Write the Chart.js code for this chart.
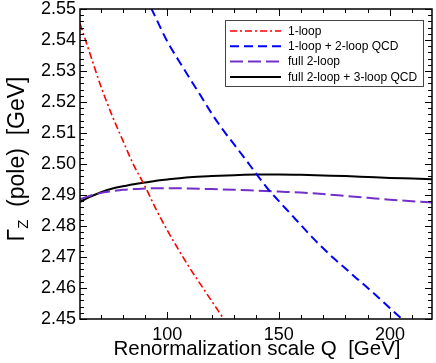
<!DOCTYPE html>
<head>
  <script src="https://cdn.jsdelivr.net/npm/chart.js"></script>
  <style>
      body { margin: 0; background: #fff; }
      .chartBox { width: 436px; height: 363px; }
  </style>
</head>

<body>
  <div class="chartBox">
    <canvas id="widthChart"></canvas>
  </div>

<script>
// renormalization scale Q [GeV] and Gamma_Z [GeV]
const qOneLoop = [60.79, 65, 70, 75, 80, 85, 90, 95, 100, 105, 110, 115, 120, 125, 130];
const gammaOneLoop = [2.5453, 2.5362, 2.5254, 2.5160, 2.5076, 2.4995, 2.4928, 2.4853, 2.4786, 2.4724, 2.4665, 2.4611, 2.4557, 2.4504, 2.4452];

const qOneLoopQcd = [90, 95, 100, 105, 110, 115, 120, 125, 130, 135, 140, 145, 150, 155, 160, 165, 170, 175, 180, 185, 190, 195, 200, 205, 210];
const gammaOneLoopQcd = [2.5544, 2.5469, 2.5395, 2.5335, 2.5277, 2.5220, 2.5162, 2.5110, 2.5063, 2.5016, 2.4968, 2.4921, 2.4881, 2.4842, 2.4803, 2.4764, 2.4728, 2.4694, 2.4663, 2.4631, 2.4600, 2.4568, 2.4535, 2.4502, 2.4469];

const qFull = [60.79, 65, 70, 75, 80, 85, 90, 95, 100, 110, 120, 130, 140, 150, 160, 170, 180, 190, 200, 210, 218.85];
const gammaFull2 = [2.4886, 2.4897, 2.4906, 2.4912, 2.4917, 2.4919, 2.4921, 2.4922, 2.4922, 2.4921, 2.4919, 2.4917, 2.4914, 2.4911, 2.4908, 2.4903, 2.4897, 2.4891, 2.4885, 2.4880, 2.4876];
const gammaFull3 = [2.4878, 2.4893, 2.4908, 2.4920, 2.4928, 2.4935, 2.4940, 2.4946, 2.4950, 2.4957, 2.4961, 2.4964, 2.4966, 2.4966, 2.4965, 2.4963, 2.4961, 2.4958, 2.4955, 2.4953, 2.4951];

const xTicks = [100, 150, 200];
const yTicks = [2.45, 2.46, 2.47, 2.48, 2.49, 2.50, 2.51, 2.52, 2.53, 2.54, 2.55];

const fontFamily = "'Liberation Sans', Arial, Helvetica, sans-serif";

function pts(xs, ys) {
  return xs.map((q, i) => ({x: q, y: ys[i]}));
}

// frame with inward ticks on all four sides, plus axis titles
const frameAndTitles = {
  id: 'frameAndTitles',
  afterDraw(chart) {
    const {ctx, chartArea: {left, right, top, bottom}, scales: {x, y}} = chart;
    ctx.save();
    ctx.strokeStyle = '#000';
    ctx.lineWidth = 1;
    ctx.beginPath();
    for (let q = 70; q <= 210; q += 10) {
      const px = Math.round(x.getPixelForValue(q)) + 0.5;
      const len = q % 50 === 0 ? 7 : 4;
      ctx.moveTo(px, bottom); ctx.lineTo(px, bottom - len);
      ctx.moveTo(px, top); ctx.lineTo(px, top + len);
    }
    for (let k = 0; k <= 50; k++) {
      const py = Math.round(y.getPixelForValue(2.45 + k * 0.002)) + 0.5;
      const len = k % 5 === 0 ? 7 : 4;
      ctx.moveTo(left, py); ctx.lineTo(left + len, py);
      ctx.moveTo(right, py); ctx.lineTo(right - len, py);
    }
    ctx.stroke();
    ctx.lineWidth = 1.5;
    ctx.strokeRect(left, top, right - left, bottom - top);

    // x title
    ctx.fillStyle = '#000';
    ctx.font = '20.5px ' + fontFamily;
    ctx.textAlign = 'center';
    ctx.textBaseline = 'alphabetic';
    ctx.fillText('Renormalization scale Q  [GeV]', 257, 355);

    // y title with subscript
    const big = '23px ' + fontFamily, small = '15px ' + fontFamily;
    const rest = '  (pole)  [GeV]';
    ctx.font = big;
    const wG = ctx.measureText('\u0393').width;
    const wR = ctx.measureText(rest).width;
    ctx.font = small;
    const wZ = ctx.measureText('Z').width;
    const total = wG + wZ + wR;
    ctx.translate(24, 159 + total / 2);
    ctx.rotate(-Math.PI / 2);
    ctx.textAlign = 'left';
    ctx.font = big;
    ctx.fillText('\u0393', 0, 0);
    ctx.font = small;
    ctx.fillText('Z', wG, 4);
    ctx.font = big;
    ctx.fillText(rest, wG + wZ, 0);
    ctx.restore();
  }
};

const boxLegend = {
  id: 'boxLegend',
  afterDraw(chart) {
    const {ctx} = chart;
    const bx = 225, by = 20, bw = 198, bh = 66;
    ctx.save();
    ctx.fillStyle = '#fff';
    ctx.fillRect(bx, by, bw, bh);
    ctx.strokeStyle = '#444';
    ctx.lineWidth = 1;
    ctx.strokeRect(bx + 0.5, by + 0.5, bw, bh);
    ctx.font = '12px ' + fontFamily;
    ctx.textBaseline = 'middle';
    ctx.textAlign = 'left';
    chart.data.datasets.forEach((ds, i) => {
      const ly = by + 11 + i * 15.3;
      ctx.strokeStyle = ds.borderColor;
      ctx.lineWidth = ds.borderWidth;
      ctx.setLineDash(ds.borderDash || []);
      ctx.beginPath();
      ctx.moveTo(230, ly);
      ctx.lineTo(281, ly);
      ctx.stroke();
      ctx.setLineDash([]);
      ctx.fillStyle = '#000';
      ctx.fillText(ds.label, 288, ly + 0.5);
    });
    ctx.restore();
  }
};

new Chart(document.getElementById('widthChart'), {
  type: 'scatter',
  data: {
    datasets: [
      {
        label: '1-loop',
        data: pts(qOneLoop, gammaOneLoop),
        borderColor: '#ff0000',
        borderWidth: 1.6,
        borderDash: [7, 3, 2, 3]
      },
      {
        label: '1-loop + 2-loop QCD',
        data: pts(qOneLoopQcd, gammaOneLoopQcd),
        borderColor: '#0000ff',
        borderWidth: 2,
        borderDash: [9, 5]
      },
      {
        label: 'full 2-loop',
        data: pts(qFull, gammaFull2),
        borderColor: '#7330c8',
        borderWidth: 2,
        borderDash: [13, 5]
      },
      {
        label: 'full 2-loop + 3-loop QCD',
        data: pts(qFull, gammaFull3),
        borderColor: '#000000',
        borderWidth: 2,
        borderDash: []
      }
    ]
  },
  options: {
    responsive: true,
    maintainAspectRatio: false,
    animation: false,
    showLine: true,
    clip: 0,
    elements: {
      point: { radius: 0 },
      line: { cubicInterpolationMode: 'monotone', fill: false }
    },
    layout: { padding: { top: 9, right: 4, left: 0, bottom: 0 } },
    plugins: {
      legend: { display: false },
      tooltip: { enabled: false }
    },
    scales: {
      x: {
        type: 'linear',
        min: 60.79,
        max: 218.85,
        grid: { display: false, drawTicks: false },
        border: { display: false },
        afterBuildTicks: s => { s.ticks = xTicks.map(v => ({value: v})); },
        afterFit: s => { s.height = 44; s.paddingLeft = 0; s.paddingRight = 0; },
        ticks: {
          color: '#000',
          padding: 5,
          maxRotation: 0,
          font: { size: 18, family: fontFamily }
        }
      },
      y: {
        type: 'linear',
        min: 2.45,
        max: 2.55,
        grid: { display: false, drawTicks: false },
        border: { display: false },
        afterBuildTicks: s => { s.ticks = yTicks.map(v => ({value: v})); },
        afterFit: s => { s.width = 80; s.paddingTop = 0; s.paddingBottom = 0; },
        ticks: {
          color: '#000',
          padding: 4,
          font: { size: 18, family: fontFamily },
          callback: v => v.toFixed(2)
        }
      }
    }
  },
  plugins: [frameAndTitles, boxLegend]
});
</script>
</body>
